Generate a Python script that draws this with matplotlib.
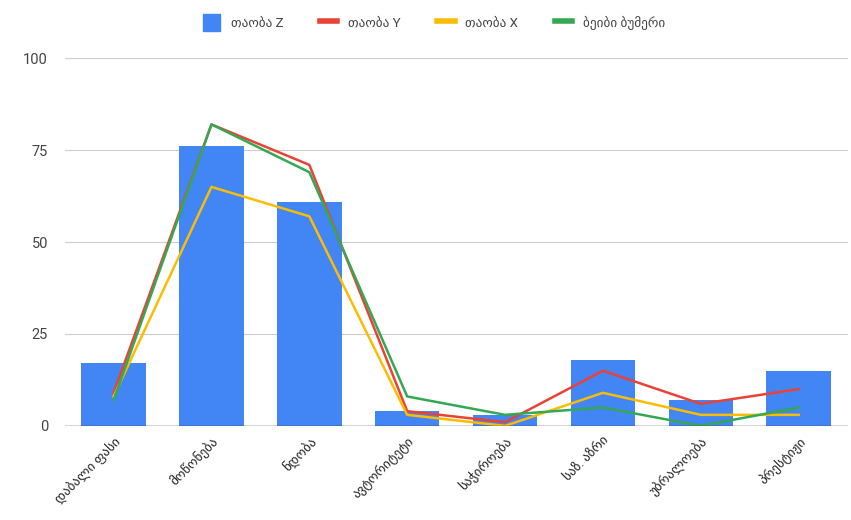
#!/usr/bin/env python

import matplotlib
matplotlib.use("Agg")
import matplotlib.pyplot as plt
from matplotlib.patches import Patch
from matplotlib.lines import Line2D

plt.rcParams["font.family"] = ["Roboto", "DejaVu Sans"]

categories = ["დაბალი ფასი", "მოწონება", "ნდობა", "ავტორიტეტი",
              "საჭიროება", "საზ. აზრი", "უბრალოება", "პრესტიჟი"]

gen_z = [17, 76, 61, 4, 3, 18, 7, 15]
gen_y = [9, 82, 71, 4, 1, 15, 6, 10]
gen_x = [8, 65, 57, 3, 0, 9, 3, 3]
boomers = [7, 82, 69, 8, 3, 5, 0, 5]

series_names = ["თაობა Z", "თაობა Y", "თაობა X", "ბეიბი ბუმერი"]
COLORS = ["#4285F4", "#EA4335", "#FBBC04", "#34A853"]


def main():
    fig = plt.figure(figsize=(8.51, 5.20), dpi=100)
    ax = fig.add_axes([0.076, 0.181, 0.920, 0.707])

    x = list(range(len(categories)))
    ax.bar(x, gen_z, width=0.66, color=COLORS[0], zorder=2)
    ax.plot(x, gen_y, color=COLORS[1], lw=1.8, zorder=3)
    ax.plot(x, gen_x, color=COLORS[2], lw=1.8, zorder=3)
    ax.plot(x, boomers, color=COLORS[3], lw=1.8, zorder=4)

    ax.set_xlim(-0.5, len(categories) - 0.5)
    ax.set_ylim(0, 100)
    ax.set_yticks([0, 25, 50, 75, 100])
    ax.yaxis.grid(True, color="#cccccc", lw=0.8, zorder=0)
    ax.axhline(0, color="#333333", lw=1.0, zorder=5)

    for s in ax.spines.values():
        s.set_visible(False)
    ax.tick_params(axis="both", length=0)
    ax.tick_params(axis="y", labelsize=10.5, labelcolor="#444444", pad=12)

    ax.set_xticks(x)
    ax.set_xticklabels(categories, rotation=45, ha="right",
                       rotation_mode="anchor", fontsize=9.5, color="#222222")
    ax.tick_params(axis="x", pad=6)

    handles = [Patch(color=COLORS[0])]
    for c in COLORS[1:]:
        handles.append(Line2D([0], [0], color=c, lw=4))
    fig.legend(handles, series_names, loc="upper center",
               bbox_to_anchor=(0.51, 0.995), ncol=4, frameon=False,
               fontsize=9.5, handlelength=1.3, handleheight=1.5,
               columnspacing=2.8, labelcolor="#444444")

    plt.savefig("out.png")


if __name__ == '__main__':
    main()
